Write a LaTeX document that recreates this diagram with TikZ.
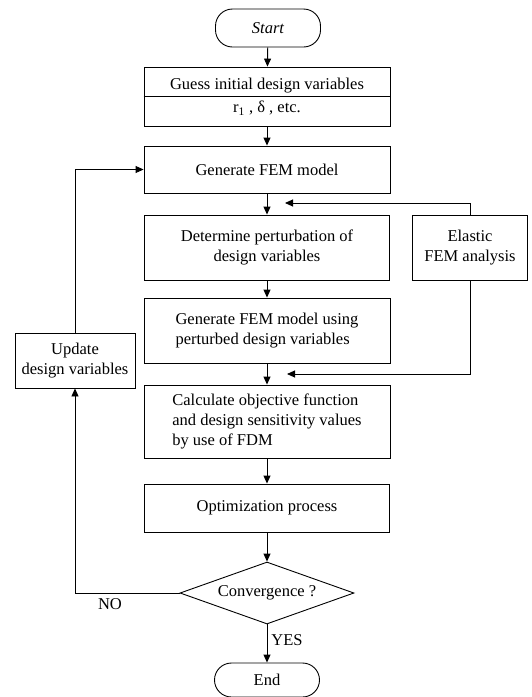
\documentclass[tikz,border=0pt]{standalone}
\usepackage{fontspec}
\setmainfont{Liberation Serif}
\usetikzlibrary{arrows.meta,shapes.geometric}
\begin{document}
\begin{tikzpicture}[x=1pt,y=-1pt,
  every node/.style={font=\fontsize{16.5}{20}\selectfont},
  box/.style={draw,line width=0.9pt,inner sep=0pt,align=center},
  term/.style={box,rounded corners=17pt},
  arr/.style={draw,line width=0.9pt,-{Triangle[length=8pt,width=7pt]}},
  ln/.style={draw,line width=0.9pt}]
\useasboundingbox (0,0) rectangle (531,697);
\node[term,minimum width=105pt,minimum height=38pt] (start) at (268,28) {\itshape Start};
\node[box,minimum width=246pt,minimum height=59pt] (guess) at (267,96.5) {Guess initial design variables\\[3pt]r\textsubscript{1} , δ , etc.};
\draw[ln] (guess.west) -- (guess.east);
\node[box,minimum width=246pt,minimum height=47pt] (gen) at (267,169.5) {Generate FEM model};
\node[box,minimum width=245pt,minimum height=65pt] (det) at (267,247.5) {Determine perturbation of\\design variables};
\node[box,minimum width=115pt,minimum height=65pt] (ela) at (470,247.5) {Elastic\\FEM analysis};
\node[box,align=left,minimum width=246pt,minimum height=65pt] (genp) at (267,330.5) {Generate FEM model using\\perturbed design variables};
\node[box,align=left,minimum width=246pt,minimum height=73pt] (calc) at (267,421.5) {Calculate objective function\\and design sensitivity values\\by use of FDM};
\node[box,minimum width=245pt,minimum height=48pt] (opt) at (267,508) {Optimization process};
\node[draw,line width=0.9pt,diamond,aspect=2.8,inner sep=0pt,minimum width=174pt,minimum height=62pt] (conv) at (267,593) {Convergence ?};
\node[term,minimum width=105pt,minimum height=34pt] (end) at (267,680) {End};
\node[box,minimum width=120pt,minimum height=55pt] (upd) at (75,360.5) {Update\\design variables};
\coordinate (e1) at (285,203);
\coordinate (e2) at (287,374);
\draw[arr] (start) -- (guess);
\draw[arr] (guess) -- (gen);
\draw[arr] (gen) -- (det);
\draw[arr] (det) -- (genp);
\draw[arr] (genp) -- (calc);
\draw[arr] (calc) -- (opt);
\draw[arr] (opt) -- (conv);
\draw[arr] (conv) -- node[right,pos=0.4,inner sep=4pt] (yes) {YES} (end);
\draw[arr] (ela.north) |- (e1);
\draw[arr] (ela.south) |- (e2);
\draw[arr] (conv.west) -| (upd.south);
\draw[arr] (upd.north) |- (gen.west);
\node (no) at (110,604) {NO};
\end{tikzpicture}
\end{document}
